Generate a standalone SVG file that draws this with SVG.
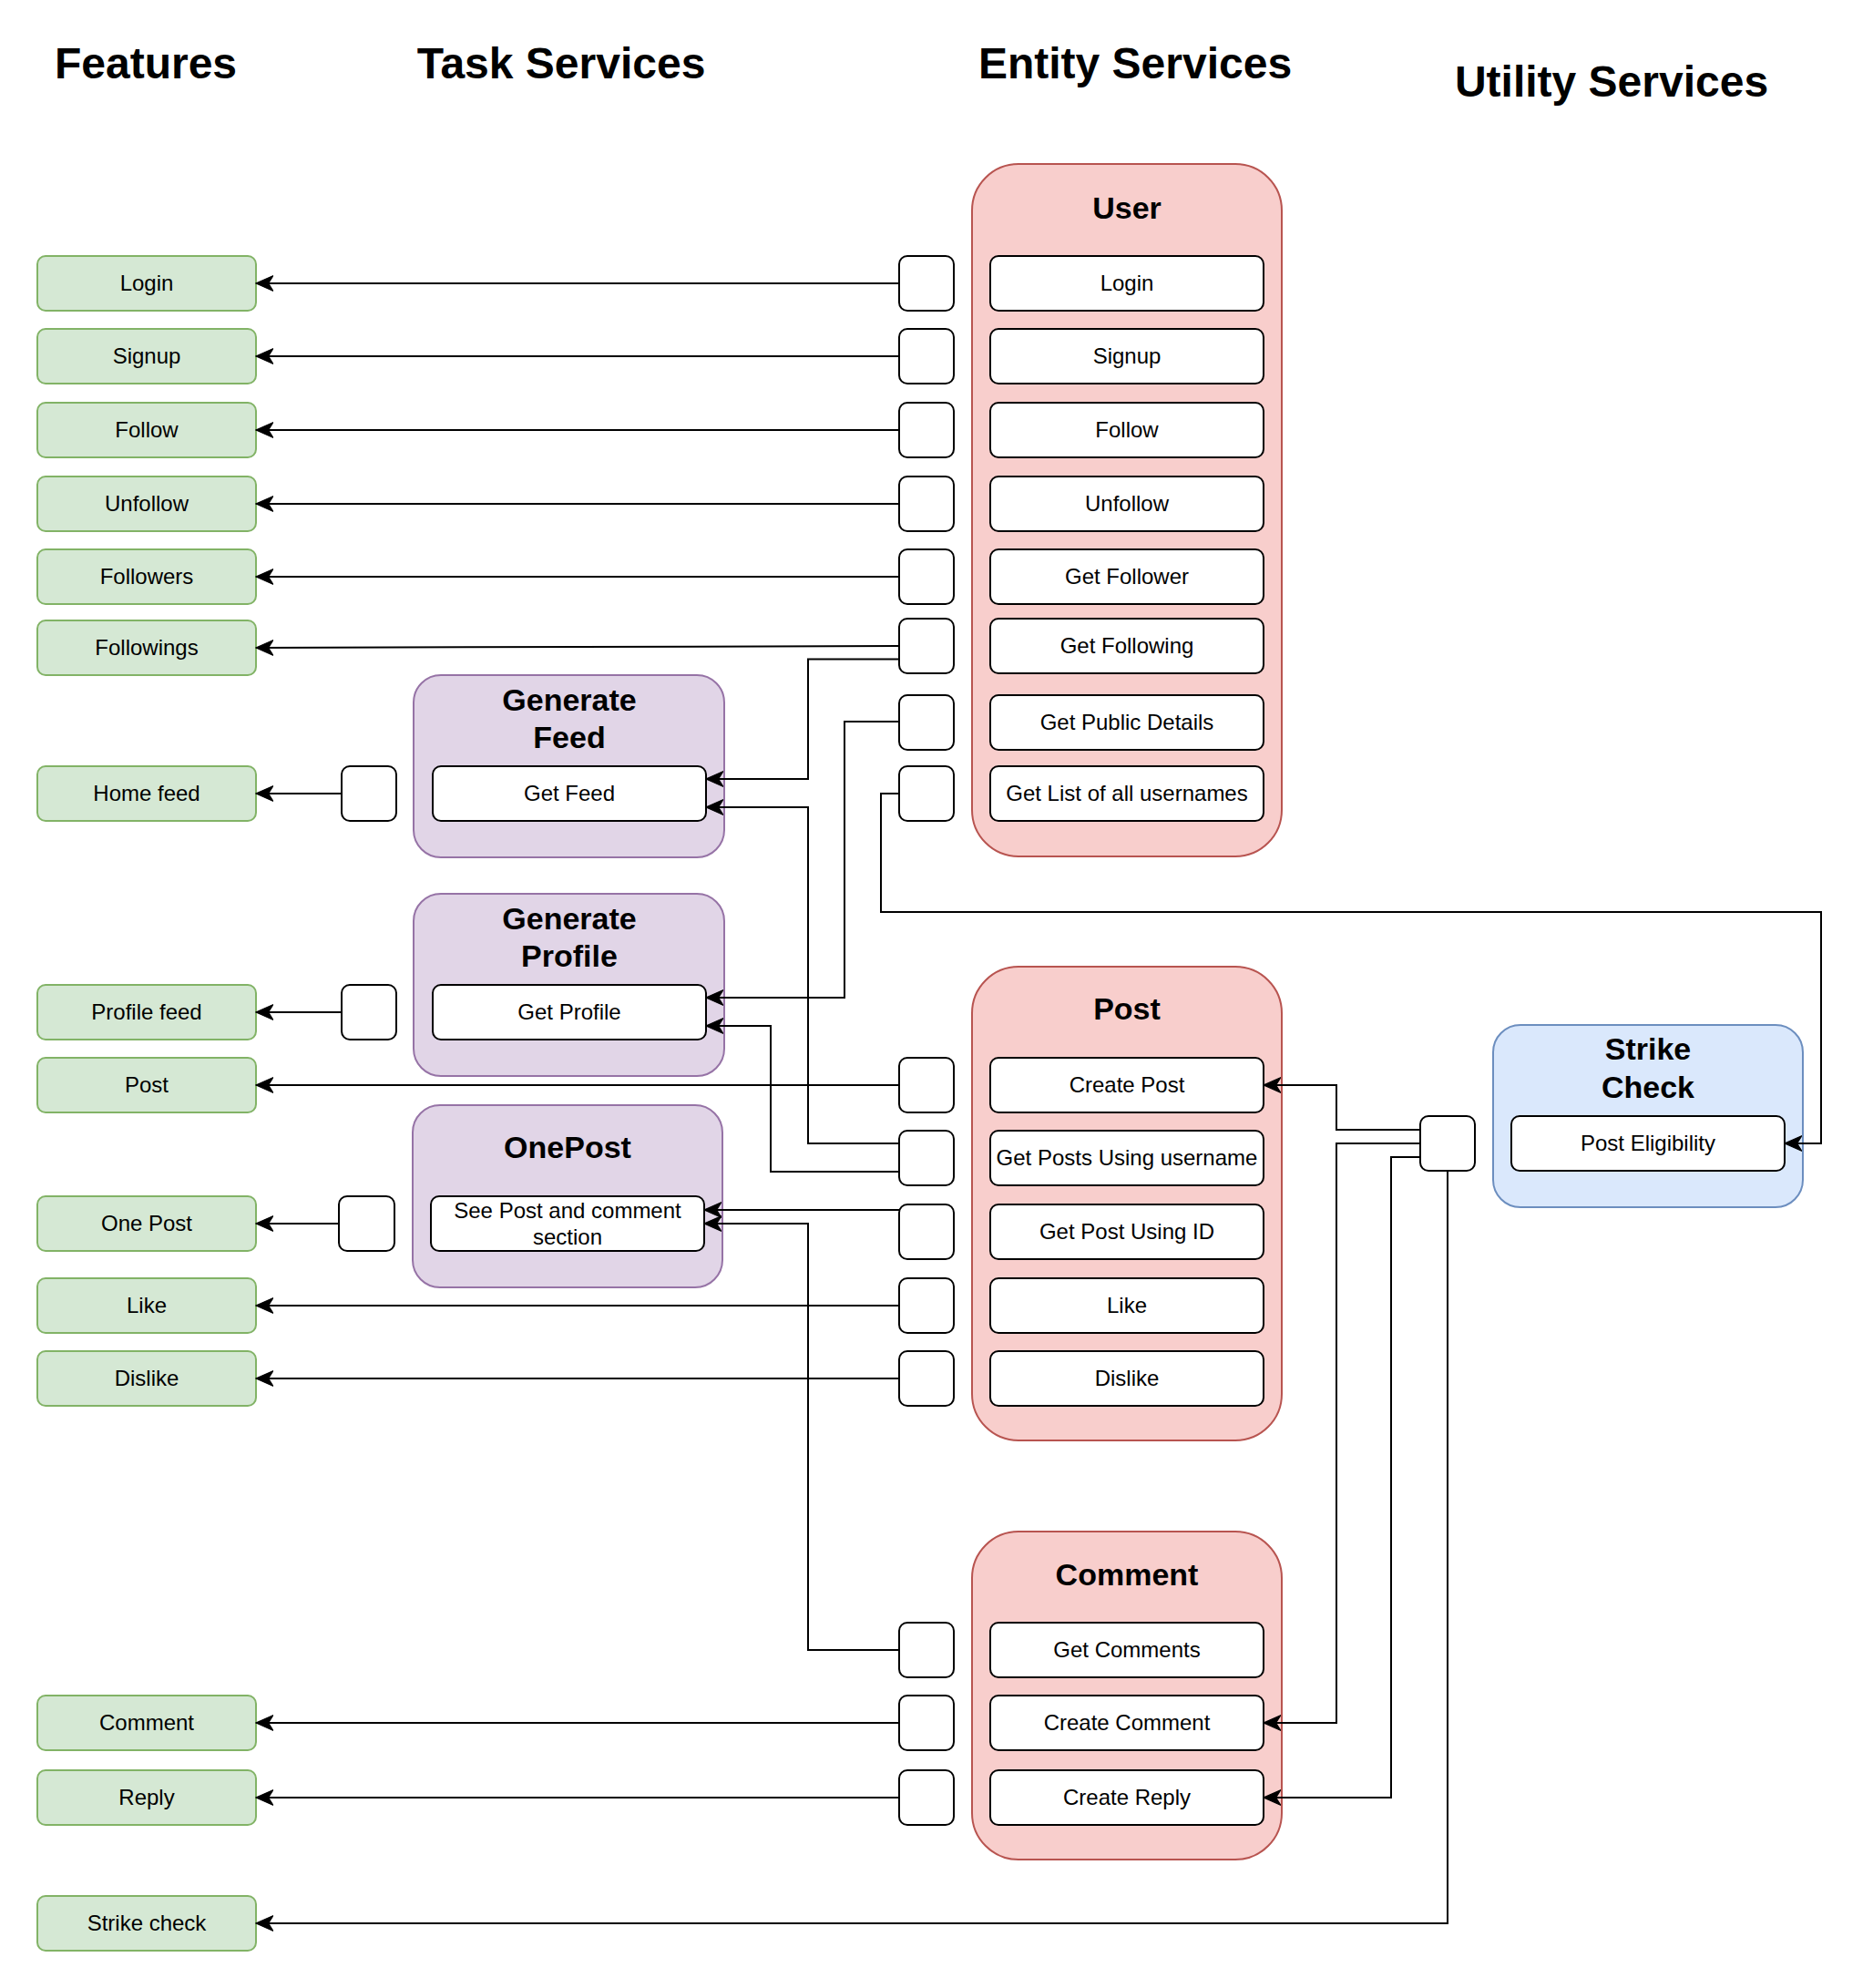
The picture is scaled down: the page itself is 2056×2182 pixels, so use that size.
<svg xmlns="http://www.w3.org/2000/svg" width="2056" height="2182" viewBox="0 0 2056 2182">
<defs>
<style>
text{font-family:"Liberation Sans",Arial,Helvetica,sans-serif;fill:#000;text-anchor:middle}
.h{font-size:48px;font-weight:bold}
.t{font-size:34px;font-weight:bold}
.l{font-size:24px}
.f{fill:#d5e8d4;stroke:#82b366;stroke-width:2}
.b{fill:#fff;stroke:#000;stroke-width:2}
.ent{fill:#f8cecc;stroke:#b85450;stroke-width:2}
.task{fill:#e1d5e7;stroke:#9673a6;stroke-width:2}
.util{fill:#dae8fc;stroke:#6c8ebf;stroke-width:2}
.c path{fill:none;stroke:#000;stroke-width:2}
.c .a{marker-end:url(#arr)}
</style>
<marker id="arr" markerUnits="userSpaceOnUse" markerWidth="20" markerHeight="20" viewBox="0 -9 19 18" refX="18" refY="0" orient="auto">
<path d="M18,0 L0,-8 L5,0 L0,8 Z" fill="#000" stroke="#000" stroke-width="1"/>
</marker>
</defs>
<rect width="2056" height="2182" fill="#fff"/>

<g id="titles">
<text class="h" x="160" y="86">Features</text>
<text class="h" x="616" y="86">Task Services</text>
<text class="h" x="1246" y="86">Entity Services</text>
<text class="h" x="1769" y="106">Utility Services</text>
</g>

<g id="features">
<g id="f-login"><rect class="f" x="41" y="281" width="240" height="60" rx="9"/><text class="l" x="161" y="319">Login</text></g>
<g id="f-signup"><rect class="f" x="41" y="361" width="240" height="60" rx="9"/><text class="l" x="161" y="399">Signup</text></g>
<g id="f-follow"><rect class="f" x="41" y="442" width="240" height="60" rx="9"/><text class="l" x="161" y="480">Follow</text></g>
<g id="f-unfollow"><rect class="f" x="41" y="523" width="240" height="60" rx="9"/><text class="l" x="161" y="561">Unfollow</text></g>
<g id="f-followers"><rect class="f" x="41" y="603" width="240" height="60" rx="9"/><text class="l" x="161" y="641">Followers</text></g>
<g id="f-followings"><rect class="f" x="41" y="681" width="240" height="60" rx="9"/><text class="l" x="161" y="719">Followings</text></g>
<g id="f-homefeed"><rect class="f" x="41" y="841" width="240" height="60" rx="9"/><text class="l" x="161" y="879">Home feed</text></g>
<g id="f-profilefeed"><rect class="f" x="41" y="1081" width="240" height="60" rx="9"/><text class="l" x="161" y="1119">Profile feed</text></g>
<g id="f-post"><rect class="f" x="41" y="1161" width="240" height="60" rx="9"/><text class="l" x="161" y="1199">Post</text></g>
<g id="f-onepost"><rect class="f" x="41" y="1313" width="240" height="60" rx="9"/><text class="l" x="161" y="1351">One Post</text></g>
<g id="f-like"><rect class="f" x="41" y="1403" width="240" height="60" rx="9"/><text class="l" x="161" y="1441">Like</text></g>
<g id="f-dislike"><rect class="f" x="41" y="1483" width="240" height="60" rx="9"/><text class="l" x="161" y="1521">Dislike</text></g>
<g id="f-comment"><rect class="f" x="41" y="1861" width="240" height="60" rx="9"/><text class="l" x="161" y="1899">Comment</text></g>
<g id="f-reply"><rect class="f" x="41" y="1943" width="240" height="60" rx="9"/><text class="l" x="161" y="1981">Reply</text></g>
<g id="f-strike"><rect class="f" x="41" y="2081" width="240" height="60" rx="9"/><text class="l" x="161" y="2119">Strike check</text></g>
</g>

<g id="task-generate-feed">
<rect class="task" x="454" y="741" width="341" height="200" rx="30"/>
<text class="t" x="625" y="780">Generate</text>
<text class="t" x="625" y="821">Feed</text>
<rect class="b" x="475" y="841" width="300" height="60" rx="9"/>
<text class="l" x="625" y="879">Get Feed</text>
</g>
<g id="task-generate-profile">
<rect class="task" x="454" y="981" width="341" height="200" rx="30"/>
<text class="t" x="625" y="1020">Generate</text>
<text class="t" x="625" y="1061">Profile</text>
<rect class="b" x="475" y="1081" width="300" height="60" rx="9"/>
<text class="l" x="625" y="1119">Get Profile</text>
</g>
<g id="task-onepost">
<rect class="task" x="453" y="1213" width="340" height="200" rx="30"/>
<text class="t" x="623" y="1271">OnePost</text>
<rect class="b" x="473" y="1313" width="300" height="60" rx="9"/>
<text class="l" x="623" y="1337">See Post and comment</text>
<text class="l" x="623" y="1366">section</text>
</g>

<g id="entity-user">
<rect class="ent" x="1067" y="180" width="340" height="760" rx="51"/>
<text class="t" x="1237" y="240">User</text>
<rect class="b" x="1087" y="281" width="300" height="60" rx="9"/><text class="l" x="1237" y="319">Login</text>
<rect class="b" x="1087" y="361" width="300" height="60" rx="9"/><text class="l" x="1237" y="399">Signup</text>
<rect class="b" x="1087" y="442" width="300" height="60" rx="9"/><text class="l" x="1237" y="480">Follow</text>
<rect class="b" x="1087" y="523" width="300" height="60" rx="9"/><text class="l" x="1237" y="561">Unfollow</text>
<rect class="b" x="1087" y="603" width="300" height="60" rx="9"/><text class="l" x="1237" y="641">Get Follower</text>
<rect class="b" x="1087" y="679" width="300" height="60" rx="9"/><text class="l" x="1237" y="717">Get Following</text>
<rect class="b" x="1087" y="763" width="300" height="60" rx="9"/><text class="l" x="1237" y="801">Get Public Details</text>
<rect class="b" x="1087" y="841" width="300" height="60" rx="9"/><text class="l" x="1237" y="879">Get List of all usernames</text>
</g>
<g id="entity-post">
<rect class="ent" x="1067" y="1061" width="340" height="520" rx="51"/>
<text class="t" x="1237" y="1119">Post</text>
<rect class="b" x="1087" y="1161" width="300" height="60" rx="9"/><text class="l" x="1237" y="1199">Create Post</text>
<rect class="b" x="1087" y="1241" width="300" height="60" rx="9"/><text class="l" x="1237" y="1279">Get Posts Using username</text>
<rect class="b" x="1087" y="1322" width="300" height="60" rx="9"/><text class="l" x="1237" y="1360">Get Post Using ID</text>
<rect class="b" x="1087" y="1403" width="300" height="60" rx="9"/><text class="l" x="1237" y="1441">Like</text>
<rect class="b" x="1087" y="1483" width="300" height="60" rx="9"/><text class="l" x="1237" y="1521">Dislike</text>
</g>
<g id="entity-comment">
<rect class="ent" x="1067" y="1681" width="340" height="360" rx="51"/>
<text class="t" x="1237" y="1740">Comment</text>
<rect class="b" x="1087" y="1781" width="300" height="60" rx="9"/><text class="l" x="1237" y="1819">Get Comments</text>
<rect class="b" x="1087" y="1861" width="300" height="60" rx="9"/><text class="l" x="1237" y="1899">Create Comment</text>
<rect class="b" x="1087" y="1943" width="300" height="60" rx="9"/><text class="l" x="1237" y="1981">Create Reply</text>
</g>

<g id="utility-strike-check">
<rect class="util" x="1639" y="1125" width="340" height="200" rx="30"/>
<text class="t" x="1809" y="1163">Strike</text>
<text class="t" x="1809" y="1205">Check</text>
<rect class="b" x="1659" y="1225" width="300" height="60" rx="9"/>
<text class="l" x="1809" y="1263">Post Eligibility</text>
</g>

<g id="ports">
<rect class="b" x="987" y="281" width="60" height="60" rx="9"/>
<rect class="b" x="987" y="361" width="60" height="60" rx="9"/>
<rect class="b" x="987" y="442" width="60" height="60" rx="9"/>
<rect class="b" x="987" y="523" width="60" height="60" rx="9"/>
<rect class="b" x="987" y="603" width="60" height="60" rx="9"/>
<rect class="b" x="987" y="679" width="60" height="60" rx="9"/>
<rect class="b" x="987" y="763" width="60" height="60" rx="9"/>
<rect class="b" x="987" y="841" width="60" height="60" rx="9"/>
<rect class="b" x="987" y="1161" width="60" height="60" rx="9"/>
<rect class="b" x="987" y="1241" width="60" height="60" rx="9"/>
<rect class="b" x="987" y="1322" width="60" height="60" rx="9"/>
<rect class="b" x="987" y="1403" width="60" height="60" rx="9"/>
<rect class="b" x="987" y="1483" width="60" height="60" rx="9"/>
<rect class="b" x="987" y="1781" width="60" height="60" rx="9"/>
<rect class="b" x="987" y="1861" width="60" height="60" rx="9"/>
<rect class="b" x="987" y="1943" width="60" height="60" rx="9"/>
<rect class="b" x="375" y="841" width="60" height="60" rx="9"/>
<rect class="b" x="375" y="1081" width="60" height="60" rx="9"/>
<rect class="b" x="372" y="1313" width="61" height="60" rx="9"/>
<rect class="b" x="1559" y="1225" width="60" height="60" rx="9"/>
</g>

<g id="connectors" class="c">
<path class="a" d="M987,311 H281"/>
<path class="a" d="M987,391 H281"/>
<path class="a" d="M987,472 H281"/>
<path class="a" d="M987,553 H281"/>
<path class="a" d="M987,633 H281"/>
<path class="a" d="M987,709 L281,711"/>
<path class="a" d="M987,723.5 H887 V855 H775"/>
<path class="a" d="M987,792 H927 V1095 H775"/>
<path class="a" d="M987,871 H967 V1001 H1999 V1255 H1959"/>
<path class="a" d="M375,871 H281"/>
<path class="a" d="M375,1111 H281"/>
<path class="a" d="M372,1343 H281"/>
<path class="a" d="M987,1191 H281"/>
<path class="a" d="M987,1255 H887 V886 H775"/>
<path class="a" d="M987,1286 H846 V1126 H775"/>
<path class="a" d="M987,1328 H773"/>
<path class="a" d="M987,1811 H887 V1343 H773"/>
<path class="a" d="M987,1433 H281"/>
<path class="a" d="M987,1513 H281"/>
<path class="a" d="M987,1891 H281"/>
<path class="a" d="M987,1973 H281"/>
<path class="a" d="M1559,1240 H1467 V1191 H1387"/>
<path class="a" d="M1559,1255 H1467 V1891 H1387"/>
<path class="a" d="M1559,1270 H1527 V1973 H1387"/>
<path class="a" d="M1589,1285 V2111 H281"/>
</g>
</svg>
